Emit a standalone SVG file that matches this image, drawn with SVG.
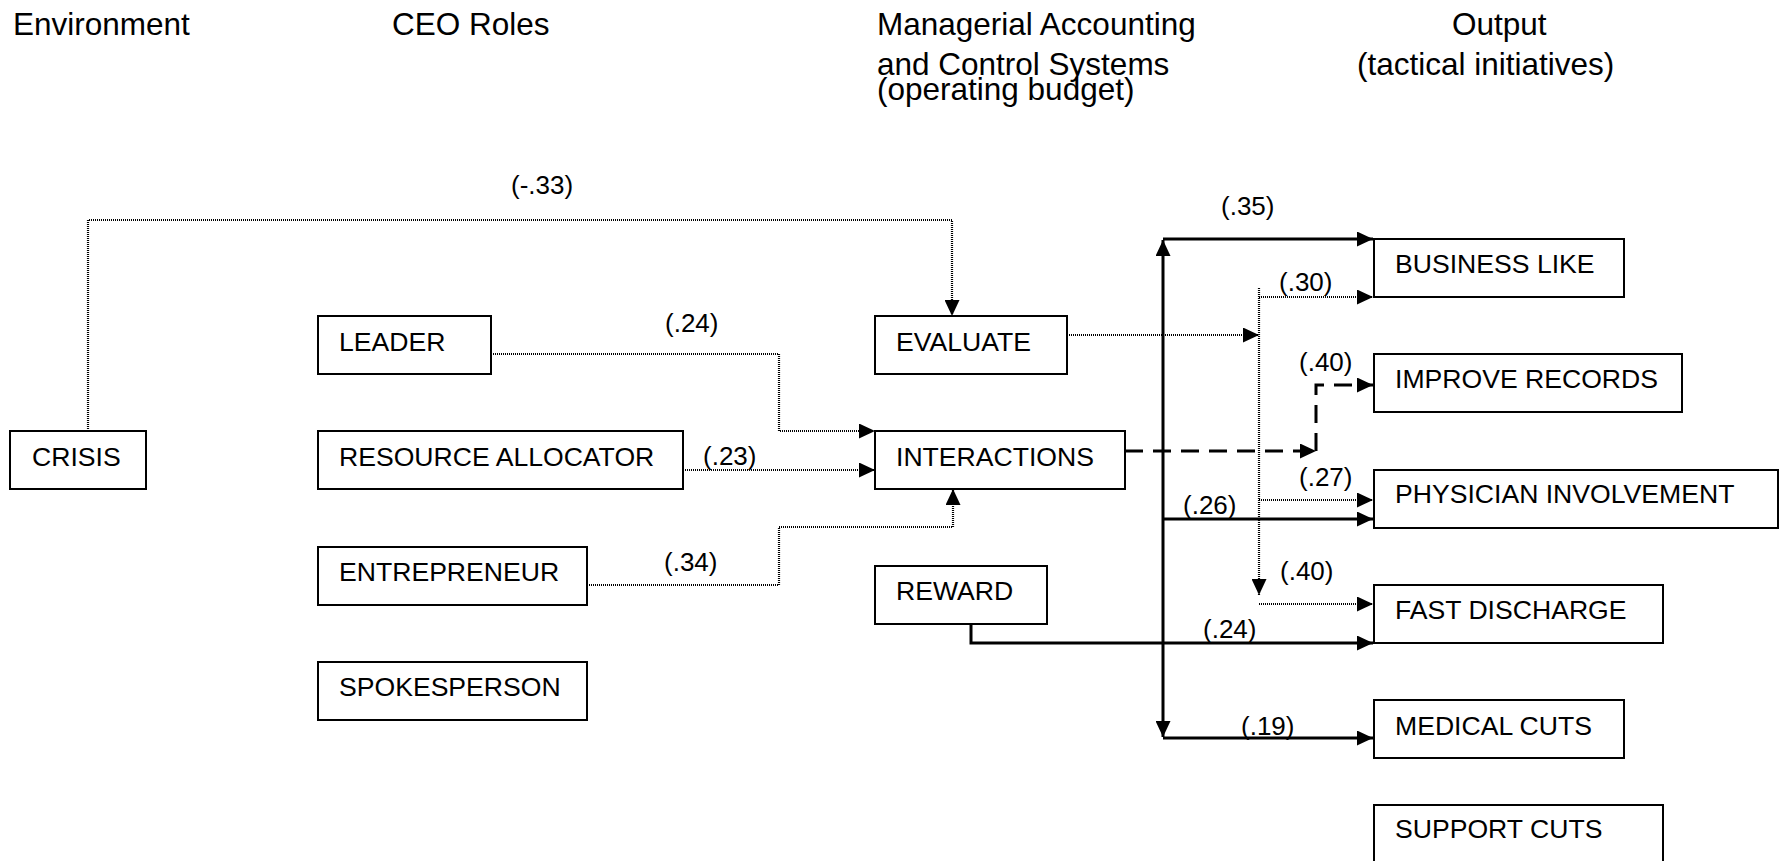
<svg xmlns="http://www.w3.org/2000/svg" width="1784" height="861" viewBox="0 0 1784 861">
<defs>
<marker id="arr" markerUnits="userSpaceOnUse" viewBox="0 0 16 15" refX="16" refY="7.5" markerWidth="16" markerHeight="15" orient="auto-start-reverse">
<path d="M0,0 L16,7.5 L0,15 z" fill="#000"/>
</marker>
<style>
text{font-family:"Liberation Sans",Arial,sans-serif;font-size:26px;fill:#000}
.hd{font-size:31.5px}
.bx{font-size:26.6px}
rect{fill:#fff;stroke:#000;stroke-width:2}
.solid{fill:none;stroke:#000;stroke-width:3}
.dot{fill:none;stroke:#000;stroke-width:2.2;stroke-dasharray:1 1}
.dash{fill:none;stroke:#000;stroke-width:3;stroke-dasharray:18 10}
.a{marker-end:url(#arr)}
</style>
</defs>
<rect x="0" y="0" width="1784" height="861" style="fill:#fff;stroke:none"/>
<g id="headers">
<text class="hd" x="13" y="35">Environment</text>
<text class="hd" x="392" y="35">CEO Roles</text>
<text class="hd" x="877" y="35">Managerial Accounting</text>
<text class="hd" x="877" y="75">and Control Systems</text>
<text class="hd" x="877" y="100">(operating budget)</text>
<text class="hd" x="1452" y="35">Output</text>
<text class="hd" x="1357" y="75">(tactical initiatives)</text>
</g>
<g id="connectors">
<path class="dot a" d="M88,431 V220 H952 V316"/>
<path class="dot a" d="M491,354 H779 V431 H875"/>
<path class="dot a" d="M683,470 H875"/>
<path class="dot a" d="M587,585 H779 V527 H953 V489"/>
<path class="dot a" d="M1067,335 H1259"/>
<path class="dot a" d="M1259,288 V595"/>
<path class="dot a" d="M1259,297 H1373"/>
<path class="dot a" d="M1259,500 H1373"/>
<path class="dot a" d="M1259,604 H1373"/>
<path class="solid a" d="M1163,737 V240" style="marker-start:url(#arr)"/>
<path class="solid a" d="M1163,239 H1373"/>
<path class="solid a" d="M1163,519 H1373"/>
<path class="solid a" d="M1163,738 H1373"/>
<path class="solid a" d="M971,623 V643 H1373"/>
<path class="dash a" d="M1125,451 H1316"/>
<path class="dash a" d="M1316,451 V385 H1373"/>
</g>
<g id="labels">
<text x="511" y="194">(-.33)</text>
<text x="1221" y="215">(.35)</text>
<text x="1279" y="291">(.30)</text>
<text x="665" y="332">(.24)</text>
<text x="1299" y="371">(.40)</text>
<text x="703" y="465">(.23)</text>
<text x="1299" y="486">(.27)</text>
<text x="1183" y="514">(.26)</text>
<text x="664" y="571">(.34)</text>
<text x="1280" y="580">(.40)</text>
<text x="1203" y="638">(.24)</text>
<text x="1241" y="735">(.19)</text>
</g>
<g id="crisis"><rect x="10" y="431" width="136" height="58"/><text class="bx" x="32" y="466">CRISIS</text></g>
<g id="leader"><rect x="318" y="316" width="173" height="58"/><text class="bx" x="339" y="351">LEADER</text></g>
<g id="resource-allocator"><rect x="318" y="431" width="365" height="58"/><text class="bx" x="339" y="466">RESOURCE ALLOCATOR</text></g>
<g id="entrepreneur"><rect x="318" y="547" width="269" height="58"/><text class="bx" x="339" y="581">ENTREPRENEUR</text></g>
<g id="spokesperson"><rect x="318" y="662" width="269" height="58"/><text class="bx" x="339" y="696">SPOKESPERSON</text></g>
<g id="evaluate"><rect x="875" y="316" width="192" height="58"/><text class="bx" x="896" y="351">EVALUATE</text></g>
<g id="interactions"><rect x="875" y="431" width="250" height="58"/><text class="bx" x="896" y="466">INTERACTIONS</text></g>
<g id="reward"><rect x="875" y="566" width="172" height="58"/><text class="bx" x="896" y="600">REWARD</text></g>
<g id="business-like"><rect x="1374" y="239" width="250" height="58"/><text class="bx" x="1395" y="273">BUSINESS LIKE</text></g>
<g id="improve-records"><rect x="1374" y="354" width="308" height="58"/><text class="bx" x="1395" y="388">IMPROVE RECORDS</text></g>
<g id="physician-involvement"><rect x="1374" y="470" width="404" height="58"/><text class="bx" x="1395" y="503">PHYSICIAN INVOLVEMENT</text></g>
<g id="fast-discharge"><rect x="1374" y="585" width="289" height="58"/><text class="bx" x="1395" y="619">FAST DISCHARGE</text></g>
<g id="medical-cuts"><rect x="1374" y="700" width="250" height="58"/><text class="bx" x="1395" y="735">MEDICAL CUTS</text></g>
<g id="support-cuts"><rect x="1374" y="805" width="289" height="58"/><text class="bx" x="1395" y="838">SUPPORT CUTS</text></g>
</svg>
